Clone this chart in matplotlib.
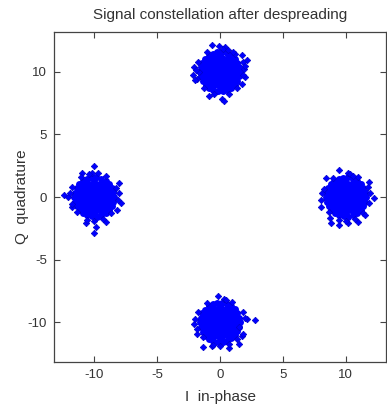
import matplotlib
matplotlib.use("Agg")
import matplotlib.pyplot as plt

# constellation centres (I, Q)
centers_i = [0.0, -10.0, 10.0, 0.0]
centers_q = [10.0, 0.0, 0.0, -10.0]

# dense core shape shared by every cluster (offsets from centre)
core_di = [0.05,
           -0.75, -0.45, -0.15, 0.15, 0.45, 0.75,
           -0.95, -0.62, -0.3, 0.02, 0.3, 0.6, 0.92,
           -1.12, -0.8, -0.48, -0.16, 0.14, 0.46, 0.78, 1.1,
           -1.28, -0.98, -0.66, -0.34, -0.02, 0.3, 0.62, 0.95, 1.27,
           -1.35, -1.1, -0.8, -0.5, -0.2, 0.1, 0.4, 0.7, 1.0, 1.32,
           -1.27, -0.96, -0.65, -0.33, -0.01, 0.32, 0.63, 0.96, 1.26,
           -1.13, -0.82, -0.5, -0.18, 0.14, 0.45, 0.78, 1.1,
           -0.95, -0.63, -0.3, 0.0, 0.32, 0.62, 0.93,
           -0.72, -0.42, -0.12, 0.17, 0.47, 0.74,
           -0.03,
           1.58, 1.52, 1.38, 1.18, 0.9, 0.55, 0.18, -0.2, -0.57, -0.9, -1.18, -1.4, -1.52,
           -1.57, -1.51, -1.37, -1.15, -0.88, -0.54, -0.17, 0.2, 0.56, 0.9, 1.17, 1.38, 1.51]
core_dq = [-1.34,
           -1.06, -1.08, -1.05, -1.07, -1.04, -1.06,
           -0.8, -0.78, -0.82, -0.79, -0.81, -0.77, -0.8,
           -0.54, -0.52, -0.55, -0.51, -0.53, -0.5, -0.54, -0.52,
           -0.27, -0.25, -0.28, -0.24, -0.27, -0.26, -0.25, -0.28, -0.26,
           0.01, -0.02, 0.02, 0.0, -0.01, 0.03, -0.02, 0.01, 0.0, 0.02,
           0.27, 0.25, 0.28, 0.24, 0.27, 0.26, 0.25, 0.28, 0.26,
           0.53, 0.51, 0.55, 0.52, 0.54, 0.5, 0.53, 0.52,
           0.79, 0.78, 0.81, 0.77, 0.8, 0.78, 0.8,
           1.05, 1.07, 1.04, 1.06, 1.05, 1.07,
           1.33,
           0.0, 0.37, 0.72, 1.03, 1.27, 1.46, 1.56, 1.55, 1.45, 1.28, 1.02, 0.72, 0.36,
           0.0, -0.38, -0.73, -1.05, -1.3, -1.47, -1.55, -1.56, -1.45, -1.27, -1.04, -0.72, -0.37]

# ragged edges and outliers for each cluster (offsets from centre)
top_di = [-0.66, -0.08, 0.37, 1.19, 1.74, 2.13, 1.98, -2.05, -2.13, 0.13, 0.32, -0.87, -1.66, 1.74,
          -1.75, -1.8, 1.8, 1.85, 1.0, -1.0, 0.7, -0.45, 1.35, -1.3, 1.9, -1.9, 0.2, 2.0, -1.95, 0.6]
top_dq = [2.14, 2.06, 1.98, 1.45, 1.35, 0.95, -0.45, 0.4, -0.24, -2.17, -2.3, -1.9, -0.05, -0.95,
          0.8, -0.6, 0.8, -0.3, 1.6, 1.55, -1.75, -1.8, -1.3, -1.3, 0.2, 0.15, 1.85, 0.45, -0.7, 1.75]
left_di = [0.0, -0.18, -0.97, 1.98, -2.37, -2.1, -1.76, 0.0, 0.13, -0.66, 0.92, 2.11, 1.84,
           -1.75, -1.8, 1.75, 1.9, 0.95, -1.05, 0.7, -0.55, 1.35, -1.35, 1.95, -1.95, 0.3, 0.0, -0.4]
left_dq = [2.46, 1.88, 1.93, 1.09, 0.16, 0.0, -0.77, -2.88, -2.36, -2.06, -1.96, -0.5, -1.03,
           0.8, -0.55, 0.7, -0.25, 1.65, 1.6, -1.75, -1.8, -1.3, -1.2, 0.35, 0.3, 1.9, -1.9, 1.85]
right_di = [-1.55, -0.5, 0.16, 1.87, 2.21, -1.29, -1.16, -0.5, 0.16, 0.95, -1.9, -1.95,
            -1.75, 1.8, 1.85, 0.95, -1.05, 0.7, -0.55, 1.35, -1.35, 1.95, -1.95, 0.3, 0.0, 1.5, 0.6]
right_dq = [1.48, 2.14, 1.88, 1.21, -0.1, -1.69, -2.09, -2.22, -2.09, -1.96, 0.29, -0.77,
            0.65, 0.8, -0.45, 1.6, 1.5, -1.75, -1.8, -1.3, -1.2, 0.3, -0.2, 1.85, -1.9, -1.45, 1.7]
bottom_di = [-0.13, -2.05, 2.16, 2.82, 1.5, -1.34, -0.61, 0.71, 1.5, 1.76, -1.8,
             -1.75, -1.8, 1.8, 1.85, 0.95, -1.05, 0.7, -0.55, 1.35, -1.35, 1.95, -1.95, 0.3, 0.0, 0.5]
bottom_dq = [2.09, -0.1, 0.24, 0.16, -0.37, -2.0, -1.88, -2.06, -1.75, -1.09, -0.95,
             0.8, -0.5, 0.85, -0.9, 1.6, 1.55, -1.75, -1.8, -1.3, -1.2, 0.35, 0.3, 1.85, -1.9, 1.8]

edge_di = [top_di, left_di, right_di, bottom_di]
edge_dq = [top_dq, left_dq, right_dq, bottom_dq]

ticks = [-10, -5, 0, 5, 10]

plt.rcParams['font.family'] = ['Liberation Sans', 'DejaVu Sans']
plt.rcParams['axes.unicode_minus'] = False
text_col = '#333333'
blue = '#0000ff'

fig = plt.figure(figsize=(3.87, 4.05), dpi=100)
ax = fig.add_axes([0.1395, 0.105, 0.858, 0.817])

for ci, cq, ei, eq in zip(centers_i, centers_q, edge_di, edge_dq):
    ax.plot([ci + d for d in core_di], [cq + d for d in core_dq], linestyle='none',
            marker='o', markersize=5.0, color=blue, markeredgewidth=0)
    ax.plot([ci + d for d in ei], [cq + d for d in eq], linestyle='none',
            marker='D', markersize=3.3, color=blue, markeredgecolor='#0000cc',
            markeredgewidth=0.5)

ax.set_xlim(-13.2, 13.2)
ax.set_ylim(-13.2, 13.2)
ax.set_xticks(ticks)
ax.set_yticks(ticks)
ax.tick_params(direction='in', length=4, width=0.8, top=True, right=True,
               labelsize=9.5, colors='#444444', labelcolor=text_col, pad=5)
for s in ax.spines.values():
    s.set_color('#444444')
    s.set_linewidth(0.9)

ax.set_title('Signal constellation after despreading', fontsize=11, color=text_col, pad=9)
ax.set_xlabel('I  in-phase', fontsize=11, color=text_col, labelpad=6)
ax.set_ylabel('Q  quadrature', fontsize=11, color=text_col, labelpad=-1)

fig.savefig('out.png', dpi=100)
